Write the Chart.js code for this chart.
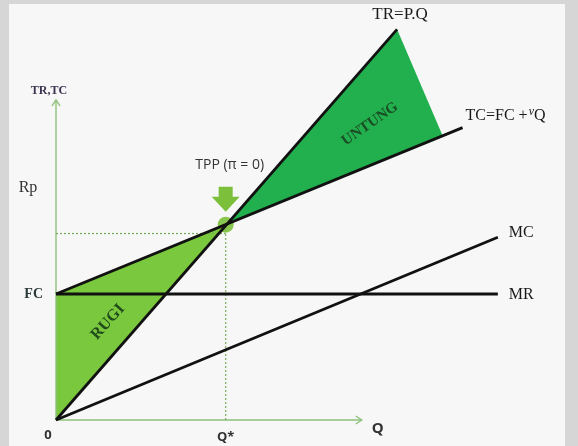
<!DOCTYPE html>
<html>
<head>
<meta charset="utf-8">
<script src="https://cdn.jsdelivr.net/npm/chart.js@4.4.1/dist/chart.umd.min.js"></script>
<style>
  html, body { margin: 0; padding: 0; background: #d9d9d9; }
  canvas { display: block; }
</style>
</head>
<body>
<canvas id="bep" width="578" height="446"></canvas>
<script>
// break-even diagram: TR = P.Q, TC = FC + vQ, MC, MR
// Q on the x axis, Rp on the y axis (FC = 10)
var trQ = [0, 20.3],   trV = [0, 31.0];     // TR = P.Q
var tcQ = [0, 24.2],   tcV = [10, 23.2];    // TC = FC + vQ
var mcQ = [0, 26.3],   mcV = [0, 14.5];     // MC
var mrQ = [0, 26.3],   mrV = [10, 10];      // MR
var tppQ = [10.1],     tppV = [15.5];       // titik pulang pokok
var untungQ = [10.1, 20.3, 23.0], untungV = [15.5, 31.0, 22.6];
var rugiQ = [0, 0, 10.1],         rugiV = [0, 10, 15.5];
var qStarQ = [10.1, 10.1], qStarV = [0, 15.5];   // garis Q*
var rpQ = [0, 10.1],       rpV = [14.8, 14.8];   // garis harga
var axisYQ = [0, 0],       axisYV = [0, 25.4];
var axisXQ = [0, 18.2],    axisXV = [0, 0];

function pts(xs, ys) {
  return xs.map(function (x, i) { return { x: x, y: ys[i] }; });
}

var black = '#111';
var axisGreen = '#8ec07c';

function line(data, color, width, dash) {
  return {
    data: data, showLine: true, pointRadius: 0,
    borderColor: color, borderWidth: width, borderDash: dash || [],
    fill: false, tension: 0
  };
}

// datasets higher in the list are painted on top
var datasets = [
  line(pts(trQ, trV), black, 2.8),
  line(pts(tcQ, tcV), black, 2.8),
  line(pts(mcQ, mcV), black, 2.8),
  line(pts(mrQ, mrV), black, 2.8),
  {
    data: pts(tppQ, tppV), pointRadius: 8, pointHoverRadius: 8,
    backgroundColor: 'rgba(124,192,60,0.9)', borderWidth: 0, showLine: false
  },
  line(pts(qStarQ, qStarV), '#7aab5c', 1.2, [2, 2]),
  line(pts(rpQ, rpV), '#7aab5c', 1.2, [2, 2]),
  line(pts(axisYQ, axisYV), axisGreen, 1.4),
  line(pts(axisXQ, axisXV), axisGreen, 1.4),
  {
    data: pts(untungQ, untungV), showLine: true, pointRadius: 0,
    borderWidth: 0, backgroundColor: '#22b04e', fill: 'shape'
  },
  {
    data: pts(rugiQ, rugiV), showLine: true, pointRadius: 0,
    borderWidth: 0, backgroundColor: '#7ac83e', fill: 'shape'
  }
];

var serif = '"Liberation Serif", "DejaVu Serif", serif';
var sans = '"Open Sans", "DejaVu Sans", sans-serif';

var decor = {
  id: 'decor',
  beforeDraw: function (chart) {
    var c = chart.ctx;
    c.save();
    c.fillStyle = '#d6d6d6';
    c.fillRect(0, 0, chart.width, chart.height);
    c.fillStyle = '#f7f7f7';
    c.fillRect(9, 4, 556, chart.height - 4);
    c.restore();
  },
  afterDatasetsDraw: function (chart) {
    var c = chart.ctx;
    var sx = chart.scales.x, sy = chart.scales.y;
    function px(q, v) { return [sx.getPixelForValue(q), sy.getPixelForValue(v)]; }

    c.save();
    // arrow heads on both axes
    c.strokeStyle = axisGreen;
    c.lineWidth = 1.4;
    var top = px(axisYQ[1], axisYV[1]);
    c.beginPath();
    c.moveTo(top[0] - 4, top[1] + 6); c.lineTo(top[0], top[1]); c.lineTo(top[0] + 4, top[1] + 6);
    c.stroke();
    var end = px(axisXQ[1], axisXV[1]);
    c.beginPath();
    c.moveTo(end[0] - 6, end[1] - 4); c.lineTo(end[0], end[1]); c.lineTo(end[0] - 6, end[1] + 4);
    c.stroke();

    // green arrow pointing at TPP
    var t = px(tppQ[0], tppV[0]);
    c.fillStyle = '#7cbf3a';
    c.beginPath();
    c.moveTo(t[0] - 7, t[1] - 38);
    c.lineTo(t[0] + 7, t[1] - 38);
    c.lineTo(t[0] + 7, t[1] - 28);
    c.lineTo(t[0] + 14, t[1] - 28);
    c.lineTo(t[0], t[1] - 13);
    c.lineTo(t[0] - 14, t[1] - 28);
    c.lineTo(t[0] - 7, t[1] - 28);
    c.closePath();
    c.fill();

    function txt(s, x, y, font, color, align, angle) {
      c.save();
      c.translate(x, y);
      if (angle) c.rotate(angle * Math.PI / 180);
      c.font = font;
      c.fillStyle = color;
      c.textAlign = align || 'center';
      c.textBaseline = 'middle';
      c.fillText(s, 0, 0);
      c.restore();
    }

    var o = px(0, 0);
    var fc = px(tcQ[0], tcV[0]);
    var tr = px(trQ[1], trV[1]);
    var tc = px(tcQ[1], tcV[1]);
    var mc = px(mcQ[1], mcV[1]);
    var mr = px(mrQ[1], mrV[1]);

    txt('TR,TC', o[0] - 7, top[1] - 9, 'bold 12px ' + serif, '#3d3350');
    txt('Rp', o[0] - 28, o[1] - 232, '16px ' + serif, '#333');
    txt('FC', fc[0] - 13, fc[1], 'bold 14px ' + serif, '#2a3838', 'right');
    txt('0', o[0] - 8, o[1] + 15, 'bold 13px ' + sans, '#333');
    txt('Q*', t[0], o[1] + 17, 'bold 13px ' + sans, '#333');
    txt('Q', end[0] + 16, end[1] + 9, 'bold 15px ' + sans, '#333');
    txt('TPP (\u03c0 = 0)', t[0] + 4, t[1] - 60, '14px ' + sans, '#333');
    txt('TR=P.Q', tr[0] + 3, tr[1] - 15, '17px ' + serif, '#1a1a1a');
    txt('MC', mc[0] + 11, mc[1] - 5, '16px ' + serif, '#1a1a1a', 'left');
    txt('MR', mr[0] + 11, mr[1] + 1, '16px ' + serif, '#1a1a1a', 'left');

    // TC=FC +vQ with a small raised v
    c.font = '16px ' + serif;
    c.fillStyle = '#1a1a1a';
    c.textBaseline = 'middle';
    c.textAlign = 'left';
    var lx = tc[0] + 3, ly = tc[1] - 12;
    c.fillText('TC=FC +', lx, ly);
    var w = c.measureText('TC=FC +').width;
    c.font = 'italic 12px ' + serif;
    c.fillText('\u03bd', lx + w + 1, ly - 4);
    var w2 = c.measureText('\u03bd').width;
    c.font = '16px ' + serif;
    c.fillText('Q', lx + w + w2 + 1, ly);

    txt('UNTUNG', 370, 124, 'bold 15px ' + serif, '#1b4d25', 'center', -35);
    txt('RUGI', 108, 322, 'bold 16px ' + serif, '#1f4a1a', 'center', -48);
    c.restore();
  }
};

new Chart(document.getElementById('bep'), {
  type: 'scatter',
  data: { datasets: datasets },
  options: {
    responsive: false,
    animation: false,
    events: [],
    layout: { padding: 0, autoPadding: false },
    plugins: { legend: { display: false }, tooltip: { enabled: false } },
    scales: {
      x: { type: 'linear', min: -3.333, max: 31.07, display: false },
      y: { type: 'linear', min: -2.06, max: 33.33, display: false }
    }
  },
  plugins: [decor]
});
</script>
</body>
</html>
